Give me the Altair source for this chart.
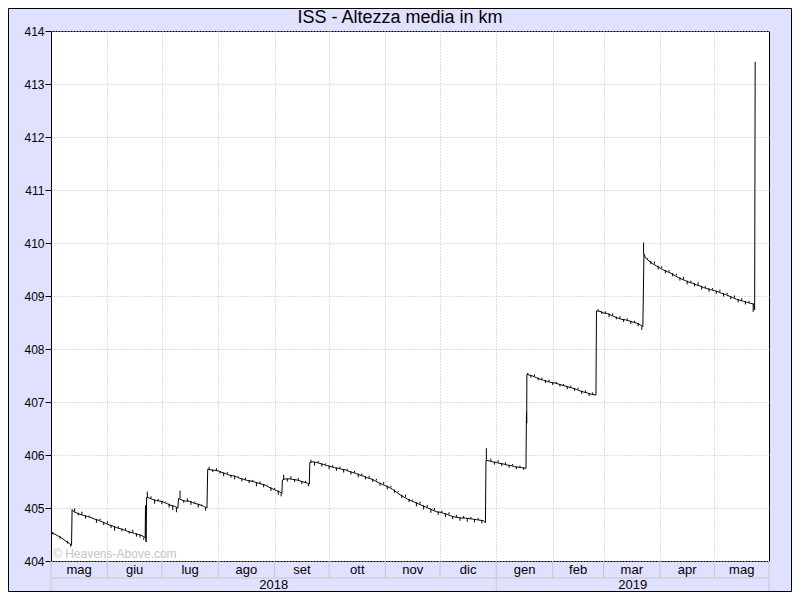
import altair as alt
import pandas as pd

# ---------------- data ----------------
# days after 2018-05-01 and mean altitude (km) of the main trace
base_day = [0, 2, 4, 6, 8, 10, 11.3, 11.6, 12.5,
            14, 16, 18, 20, 22, 24, 26, 28, 30, 32, 34, 36, 38, 40, 42, 44, 46, 48, 50, 51.8, 52.0, 52.3, 52.6,
            54, 56, 58, 60, 62, 64, 66, 68, 69.8, 70.2,
            72, 74, 76, 78, 80, 82, 84, 85.8, 86.2,
            88, 90, 92, 94, 96, 98, 100, 102, 104, 106, 108, 110, 112, 114, 116, 118, 120, 122, 124, 126, 127.0, 127.3,
            129, 131, 133, 135, 137, 139, 141, 142.1, 142.4,
            144, 146, 148, 150, 152, 154, 156, 158, 160, 162, 164, 166, 168, 170, 172, 174, 176, 178, 180, 182, 184,
            186, 188, 190, 192, 194, 196, 198, 200, 202, 204, 206, 208, 210, 212, 214, 216, 218, 220, 222, 224, 226,
            228, 230, 232, 234, 236, 238, 239.0, 239.3,
            241, 243, 245, 247, 249, 251, 253, 255, 257, 259, 261.3, 261.5, 261.6, 261.7, 261.8,
            263, 265, 267, 269, 271, 273, 275, 277, 279, 281, 283, 285, 287, 289, 291, 293, 295, 297, 299.8, 300.1,
            302, 304, 306, 308, 310, 312, 314, 316, 318, 320, 322, 324, 325.6, 326.2,
            327, 329, 331, 333, 335, 337, 339, 341, 343, 345, 347, 349, 351, 353, 355, 357, 359, 361, 363, 365, 367,
            369, 371, 373, 375, 377, 379, 381, 383, 385, 386.6, 387.1, 387.4]
base_km = [404.52, 404.51, 404.47, 404.43, 404.38, 404.33, 404.30, 404.97, 404.93,
           404.91, 404.88, 404.86, 404.84, 404.82, 404.79, 404.77, 404.74, 404.71, 404.68, 404.66, 404.63, 404.61,
           404.59, 404.56, 404.54, 404.52, 404.50, 404.48, 404.44, 405.05, 404.36, 405.20,
           405.19, 405.16, 405.14, 405.13, 405.11, 405.08, 405.05, 405.03, 405.00, 405.18,
           405.15, 405.13, 405.13, 405.10, 405.08, 405.06, 405.03, 405.00, 405.73,
           405.72, 405.71, 405.70, 405.67, 405.65, 405.62, 405.61, 405.59, 405.56, 405.54, 405.52, 405.51, 405.49,
           405.47, 405.45, 405.43, 405.39, 405.36, 405.33, 405.30, 405.27, 405.53,
           405.55, 405.55, 405.54, 405.53, 405.51, 405.49, 405.47, 405.45, 405.86,
           405.87, 405.86, 405.84, 405.82, 405.80, 405.78, 405.76, 405.75, 405.73, 405.72, 405.69, 405.67, 405.65,
           405.62, 405.60, 405.57, 405.55, 405.52, 405.48, 405.45, 405.42,
           405.39, 405.35, 405.30, 405.25, 405.21, 405.17, 405.14, 405.11, 405.08, 405.05, 405.02, 404.99, 404.96,
           404.93, 404.92, 404.90, 404.88, 404.85, 404.83, 404.82, 404.81,
           404.81, 404.80, 404.79, 404.78, 404.77, 404.76, 404.72, 405.90,
           405.89, 405.87, 405.86, 405.84, 405.83, 405.81, 405.80, 405.78, 405.77, 405.76, 405.75, 406.55, 406.80,
           406.60, 407.52,
           407.51, 407.49, 407.46, 407.43, 407.41, 407.39, 407.37, 407.36, 407.34, 407.32, 407.30, 407.28, 407.26,
           407.24, 407.21, 407.19, 407.17, 407.15, 407.13, 408.72,
           408.71, 408.68, 408.67, 408.64, 408.61, 408.58, 408.56, 408.55, 408.53, 408.51, 408.49, 408.46, 408.42,
           409.80,
           409.72, 409.66, 409.61, 409.57, 409.53, 409.49, 409.46, 409.43, 409.39, 409.35, 409.32, 409.29, 409.26,
           409.24, 409.21, 409.19, 409.16, 409.14, 409.12, 409.10, 409.08,
           409.05, 409.03, 409.00, 408.97, 408.94, 408.92, 408.90, 408.88, 408.86, 408.85, 408.74, 413.42]

# short excursions (the small vertical ticks along the trace)
spike_day = [1, 5, 9, 10.8,
             13, 15, 17, 19, 21, 25, 27, 29, 31, 33, 35, 37, 39, 41, 43, 45, 47, 49, 51,
             53, 55, 57, 59, 61, 63, 65, 67, 69,
             71, 73, 75, 77, 79, 81, 83, 85,
             87, 89, 91, 93, 95, 97, 99, 101, 103, 105, 107, 109, 111, 113, 115, 117, 119, 121, 123, 125, 126.6,
             128, 130, 132, 134, 136, 138, 140, 141.6,
             143, 145, 147, 149, 151, 153, 155, 157, 159, 161, 163, 165, 167, 169, 171, 173, 175, 177, 179, 181, 183,
             185, 187, 189, 191, 193, 195, 197, 199, 201, 203, 205, 207, 209, 211, 213, 215, 217, 219, 221, 223, 225,
             227, 229, 231, 233, 235, 237,
             239.5, 242, 244, 246, 248, 250, 252, 254, 256, 258, 260,
             262.3, 264, 266, 268, 270, 272, 274, 276, 278, 280, 282, 284, 286, 288, 290, 292, 294, 296, 298,
             301, 303, 305, 307, 309, 311, 313, 315, 317, 319, 321, 323, 325,
             326.0, 328, 330, 332, 334, 336, 338, 340, 342, 344, 346, 348, 350, 352, 354, 356, 358, 360, 362, 364, 366,
             368, 370, 372, 374, 376, 378, 380, 382, 384, 386.3]
spike_km = [404.55, 404.42, 404.33, 404.27,
            404.99, 404.86, 404.93, 404.80, 404.86, 404.72, 404.80, 404.68, 404.75, 404.62, 404.57, 404.66, 404.56,
            404.62, 404.52, 404.59, 404.46, 404.44, 404.40,
            405.31, 405.22, 405.08, 405.17, 405.07, 405.12, 405.01, 404.96, 404.92,
            405.33, 405.10, 405.18, 405.06, 405.12, 405.01, 405.07, 404.95,
            405.78, 405.68, 405.75, 405.65, 405.60, 405.68, 405.57, 405.54, 405.60, 405.50, 405.57, 405.47, 405.53,
            405.41, 405.50, 405.39, 405.44, 405.32, 405.38, 405.25, 405.22,
            405.63, 405.50, 405.60, 405.49, 405.57, 405.45, 405.51, 405.41,
            405.91, 405.80, 405.89, 405.78, 405.84, 405.73, 405.81, 405.70, 405.78, 405.67, 405.74, 405.63, 405.70,
            405.58, 405.65, 405.54, 405.61, 405.49, 405.55, 405.42, 405.49,
            405.35, 405.42, 405.29, 405.32, 405.19, 405.25, 405.11, 405.16, 405.03, 405.12, 404.97, 405.06, 404.91,
            405.00, 404.87, 404.95, 404.83, 404.92, 404.79, 404.87, 404.76,
            404.85, 404.74, 404.83, 404.73, 404.81, 404.71,
            406.13, 405.93, 405.82, 405.90, 405.79, 405.86, 405.76, 405.83, 405.73, 405.80, 405.72,
            407.55, 407.46, 407.52, 407.41, 407.46, 407.36, 407.42, 407.32, 407.38, 407.29, 407.34, 407.24, 407.31,
            407.21, 407.27, 407.15, 407.22, 407.11, 407.18,
            408.75, 408.66, 408.71, 408.60, 408.67, 408.56, 408.62, 408.51, 408.58, 408.47, 408.53, 408.43, 408.36,
            410.01, 409.70, 409.60, 409.65, 409.50, 409.56, 409.43, 409.49, 409.37, 409.42, 409.29, 409.36, 409.22,
            409.29, 409.18, 409.26, 409.12, 409.19, 409.08, 409.15, 409.04, 409.12,
            408.99, 409.06, 408.94, 409.01, 408.88, 408.96, 408.84, 408.91, 408.70]

month_bounds = ["2018-05-01", "2018-06-01", "2018-07-01", "2018-08-01", "2018-09-01", "2018-10-01",
                "2018-11-01", "2018-12-01", "2019-01-01", "2019-02-01", "2019-03-01", "2019-04-01",
                "2019-05-01", "2019-05-31"]
month_labels = ["mag", "giu", "lug", "ago", "set", "ott", "nov", "dic", "gen", "feb", "mar", "apr", "mag"]
year_bounds = ["2018-05-01", "2019-01-01", "2019-05-31"]
year_labels = ["2018", "2019"]
y_ticks = [404, 405, 406, 407, 408, 409, 410, 411, 412, 413, 414]
title_text = "ISS - Altezza media in km"
watermark = "© Heavens-Above.com"

# ---------------- layout / style ----------------
W, H = 718, 530
PAD = {"left": 43, "top": 23, "right": 23, "bottom": 31}
ROW1 = 17
ROW2 = PAD["bottom"]
BG = "#E0E0FF"
SEP = "#c8c8c8"
GRID = "#bdbdbd"
FONT = "Liberation Sans"

start = pd.Timestamp("2018-05-01")


def iso(ts):
    return ts.strftime("%Y-%m-%dT%H:%M:%S")


def dt(ts):
    return alt.DateTime(year=ts.year, month=ts.month, date=ts.day)


bounds = [pd.Timestamp(s) for s in month_bounds]
ybounds = [pd.Timestamp(s) for s in year_bounds]

line_df = pd.DataFrame({"day": base_day, "km": base_km}).sort_values("day")
line_df["t"] = [iso(start + pd.Timedelta(days=float(d))) for d in line_df["day"]]

# each excursion is drawn as a short vertical tick from the nearest trace point to its reading
spk = pd.DataFrame({"day": spike_day, "km": spike_km}).sort_values("day")
spk = pd.merge_asof(spk, line_df[["day", "km"]].rename(columns={"km": "km0"}), on="day", direction="nearest")
spk["t"] = [iso(start + pd.Timedelta(days=float(d))) for d in spk["day"]]

month_df = pd.DataFrame({"t": [iso(a + (b - a) / 2) for a, b in zip(bounds[:-1], bounds[1:])],
                         "label": month_labels})
mb_df = pd.DataFrame({"t": [iso(b) for b in bounds]})
year_df = pd.DataFrame({"t": [iso(a + (b - a) / 2) for a, b in zip(ybounds[:-1], ybounds[1:])],
                        "label": year_labels})
yb_df = pd.DataFrame({"t": [iso(b) for b in ybounds]})
one = pd.DataFrame({"a": [0]})

x_scale = alt.Scale(domain=[dt(bounds[0]), dt(bounds[-1])])
y_scale = alt.Scale(domain=[404, 414], nice=False, zero=False)
x_axis = alt.Axis(values=[dt(b) for b in bounds[1:-1]], title=None, labels=False, ticks=False, domain=False,
                  grid=True, gridColor=GRID, gridDash=[1, 2], gridWidth=1)
y_axis = alt.Axis(values=y_ticks, title=None, grid=True, gridColor=GRID, gridDash=[1, 2], gridWidth=1,
                  domain=False, ticks=True, tickSize=6, tickColor="black", labelColor="black",
                  labelFontSize=12, labelFont=FONT, labelPadding=1)


def X():
    return alt.X("t:T", scale=x_scale, axis=x_axis)


mark_wm = alt.Chart(one).mark_text(align="left", baseline="middle", fontSize=12, font=FONT,
                                   color="#c4c4cc").encode(
    x=alt.value(2), y=alt.value(H - 7), text=alt.value(watermark))

line = alt.Chart(line_df).mark_line(color="black", strokeWidth=1).encode(
    x=X(),
    y=alt.Y("km:Q", scale=y_scale, axis=y_axis),
)
ticks = alt.Chart(spk).mark_rule(color="black", strokeWidth=1).encode(
    x=X(), y=alt.Y("km:Q", scale=y_scale, axis=y_axis), y2="km0:Q")

month_sep = alt.Chart(mb_df).mark_rule(color=SEP, strokeWidth=1).encode(
    x=X(), y=alt.value(H), y2=alt.value(H + ROW1))
row_line = alt.Chart(one).mark_rule(color=SEP, strokeWidth=1).encode(
    x=alt.value(0), x2=alt.value(W), y=alt.value(H + ROW1))
month_text = alt.Chart(month_df).mark_text(fontSize=13, font=FONT, color="black", baseline="middle").encode(
    x=X(), y=alt.value(H + ROW1 / 2 + 0.5), text="label:N")
year_sep = alt.Chart(yb_df).mark_rule(color=SEP, strokeWidth=1).encode(
    x=X(), y=alt.value(H + ROW1), y2=alt.value(H + ROW2))
year_text = alt.Chart(year_df).mark_text(fontSize=13, font=FONT, color="black", baseline="middle").encode(
    x=X(), y=alt.value(H + ROW1 + (ROW2 - ROW1) / 2), text="label:N")
title = alt.Chart(one).mark_text(fontSize=18, font=FONT, color="black", baseline="middle", align="center").encode(
    x=alt.value(W / 2 - 10), y=alt.value(-PAD["top"] + 10), text=alt.value(title_text))
frame = alt.Chart(one).mark_rect(fill=None, stroke="black", strokeWidth=1).encode(
    x=alt.value(-PAD["left"] + 0.5), x2=alt.value(W + PAD["right"] - 0.5),
    y=alt.value(-PAD["top"] + 0.5), y2=alt.value(H + PAD["bottom"] - 0.5))

chart = alt.layer(mark_wm, line, ticks, month_sep, row_line, month_text, year_sep, year_text, title,
                  frame).properties(
    width=W, height=H,
    background=BG,
    padding=PAD,
    autosize=alt.AutoSizeParams(type="none"),
).configure_view(fill="white", stroke="black", strokeWidth=1)

chart.save("out.html", embed_options={"renderer": "svg", "actions": False})
